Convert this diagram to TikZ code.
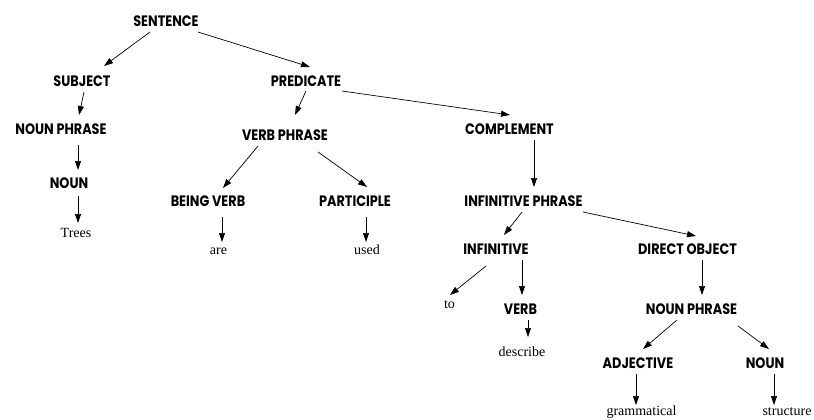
\documentclass[tikz,border=0pt]{standalone}
\usepackage{fontspec}
\usepackage{graphicx}
\newfontfamily\lblfont{Poppins}[UprightFont=* Bold]
\newfontfamily\wordfont{Liberation Serif}
\usetikzlibrary{arrows.meta}
\newcommand\tallcat[1]{\scalebox{0.95}[1.12]{#1}}
\begin{document}
\begin{tikzpicture}[x=1pt,y=-1pt,
  cat/.style={anchor=base,inner sep=0pt,font=\lblfont\fontsize{13.5}{14}\selectfont},
  wrd/.style={anchor=base,inner sep=0pt,font=\wordfont\fontsize{14}{16}\selectfont},
  arr/.style={-{Triangle[length=9pt,width=6pt]},line width=0.7pt}]
\useasboundingbox (0,0) rectangle (814,420);
\node[cat] (s) at (166,27) {\tallcat{SENTENCE}};
\node[cat] (subj) at (82,86) {\tallcat{SUBJECT}};
\node[cat] (pred) at (306,86) {\tallcat{PREDICATE}};
\node[cat] (npL) at (61,134) {\tallcat{NOUN PHRASE}};
\node[cat] (nounL) at (69,188) {\tallcat{NOUN}};
\node[wrd] (trees) at (76,237) {Trees};
\node[cat] (vp) at (285,140) {\tallcat{VERB PHRASE}};
\node[cat] (bv) at (208,206) {\tallcat{BEING VERB}};
\node[cat] (part) at (355,206) {\tallcat{PARTICIPLE}};
\node[wrd] (are) at (218.5,254) {are};
\node[wrd] (used) at (367,254) {used};
\node[cat] (comp) at (509.5,134) {\tallcat{COMPLEMENT}};
\node[cat] (ip) at (523.5,206) {\tallcat{INFINITIVE PHRASE}};
\node[cat] (inf) at (496,254) {\tallcat{INFINITIVE}};
\node[cat] (dobj) at (687.5,254) {\tallcat{DIRECT OBJECT}};
\node[wrd] (to) at (449.5,308) {to};
\node[cat] (verb) at (520.5,314) {\tallcat{VERB}};
\node[wrd] (desc) at (522,356) {describe};
\node[cat] (npR) at (691.5,314) {\tallcat{NOUN PHRASE}};
\node[cat] (adj) at (638,368) {\tallcat{ADJECTIVE}};
\node[cat] (nounR) at (765,368) {\tallcat{NOUN}};
\node[wrd] (gram) at (641.5,415) {grammatical};
\node[wrd] (struct) at (787,415) {structure};
\draw[arr] ([shift={(-16,5)}]s.base) -- ([shift={(22,-20)}]subj.base);
\draw[arr] ([shift={(32,5)}]s.base) -- ([shift={(4,-19)}]pred.base);
\draw[arr] ([shift={(36,5)}]pred.base) -- ([shift={(0.5,-19)}]comp.base);
\draw[arr] ([shift={(0,5)}]pred.base) -- ([shift={(10,-25)}]vp.base);
\draw[arr] ([shift={(2,6)}]subj.base) -- ([shift={(18,-19)}]npL.base);
\draw[arr] ([shift={(17,11)}]npL.base) -- ([shift={(9,-18)}]nounL.base);
\draw[arr] ([shift={(9,8)}]nounL.base) -- ([shift={(2,-14)}]trees.base);
\draw[arr] ([shift={(-27,6)}]vp.base) -- ([shift={(15,-18)}]bv.base);
\draw[arr] ([shift={(33,12)}]vp.base) -- ([shift={(12,-19)}]part.base);
\draw[arr] ([shift={(14,11)}]bv.base) -- ([shift={(3.5,-12)}]are.base);
\draw[arr] ([shift={(11,11)}]part.base) -- ([shift={(-1,-12)}]used.base);
\draw[arr] ([shift={(24.5,6)}]comp.base) -- ([shift={(10.5,-19)}]ip.base);
\draw[arr] ([shift={(-1.5,6)}]ip.base) -- ([shift={(8,-19)}]inf.base);
\draw[arr] ([shift={(59.5,6)}]ip.base) -- ([shift={(8.5,-18)}]dobj.base);
\draw[arr] ([shift={(-10,12)}]inf.base) -- ([shift={(0.5,-13)}]to.base);
\draw[arr] ([shift={(26,6)}]inf.base) -- ([shift={(1.5,-19)}]verb.base);
\draw[arr] ([shift={(14.5,6)}]dobj.base) -- ([shift={(10.5,-19)}]npR.base);
\draw[arr] ([shift={(7.5,6)}]verb.base) -- ([shift={(6,-19)}]desc.base);
\draw[arr] ([shift={(-14.5,6)}]npR.base) -- ([shift={(5,-19)}]adj.base);
\draw[arr] ([shift={(46.5,12)}]npR.base) -- ([shift={(4,-19)}]nounR.base);
\draw[arr] ([shift={(-2,6)}]adj.base) -- ([shift={(-5.5,-10)}]gram.base);
\draw[arr] ([shift={(9,6)}]nounR.base) -- ([shift={(-13,-10)}]struct.base);
\end{tikzpicture}
\end{document}
